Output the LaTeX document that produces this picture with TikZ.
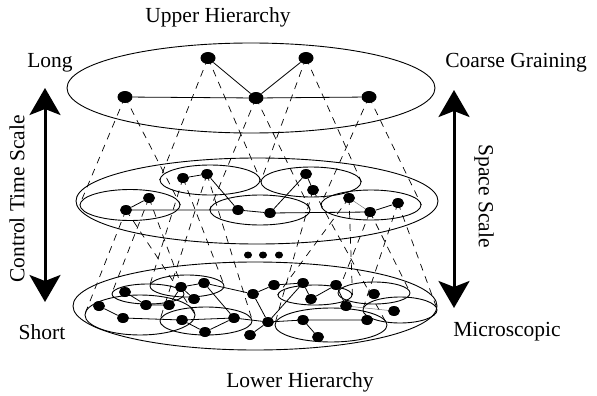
\documentclass[tikz,border=0pt]{standalone}
\usepackage{fontspec}
\setmainfont{Liberation Serif}
\usetikzlibrary{shapes.geometric,arrows.meta}

\tikzset{
	dot/.style={ellipse, fill=black, inner sep=0pt, minimum width=12pt, minimum height=10pt},
	bigdot/.style={dot, minimum width=15pt, minimum height=12pt},
	ring/.style={ellipse, draw, line width=0.9pt, inner sep=0pt},
	cone/.style={line width=0.7pt, dash pattern=on 7pt off 6pt},
	link/.style={line width=0.8pt},
	faint/.style={line width=0.5pt, color=black!55},
	bigarrow/.style={line width=3pt, {Stealth[length=27pt,width=31pt,inset=6pt]}-{Stealth[length=27pt,width=31pt,inset=6pt]}},
	lbl/.style={font=\fontsize{21.5}{26}\selectfont, inner sep=0pt}
}

\begin{document}
\begin{tikzpicture}[x=1pt, y=-1pt]
		%%%%% START %%%%%
		\useasboundingbox (0, 0) rectangle (597, 396);
		
		% the three levels
		\node[ring, minimum width=368pt, minimum height=90pt] (upper) at (251, 88) {};
		\node[ring, minimum width=362pt, minimum height=86pt] (middle) at (257, 201) {};
		\node[ring, minimum width=364pt, minimum height=88pt] (lower) at (255, 306) {};
		
		% groups on the middle level
		\node[ring, minimum width=100pt, minimum height=31pt] (md1) at (130, 205) {};
		\node[ring, minimum width=100pt, minimum height=30pt] (md2) at (210, 180) {};
		\node[ring, minimum width=100pt, minimum height=30pt] (md3) at (311, 182) {};
		\node[ring, minimum width=100pt, minimum height=30pt] (md4) at (260, 210) {};
		\node[ring, minimum width=100pt, minimum height=30pt] (md5) at (371, 205) {};
		
		% groups on the lower level
		\node[ring, minimum width=110pt, minimum height=40pt] (lw1) at (140, 315) {};
		\node[ring, minimum width=72pt, minimum height=20pt] (lw2) at (148, 294) {};
		\node[ring, minimum width=74pt, minimum height=22pt] (lw3) at (187, 286) {};
		\node[ring, minimum width=92pt, minimum height=28pt] (lw4) at (206, 321) {};
		\node[ring, minimum width=74pt, minimum height=20pt] (lw5) at (315, 295) {};
		\node[ring, minimum width=72pt, minimum height=22pt] (lw6) at (374, 293) {};
		\node[ring, minimum width=74pt, minimum height=26pt] (lw7) at (400, 310) {};
		\node[ring, minimum width=112pt, minimum height=34pt] (lw8) at (331, 325) {};
		
		% upper nodes
		\node[bigdot] (t1) at (125, 97) {};
		\node[bigdot] (t2) at (208, 58) {};
		\node[bigdot] (t3) at (306, 58) {};
		\node[bigdot] (t4) at (256, 98) {};
		\node[bigdot] (t5) at (369, 97) {};
		
		% middle nodes
		\node[dot] (ma) at (126, 210) {};
		\node[dot] (mb) at (149, 198) {};
		\node[dot] (mc) at (183, 178) {};
		\node[dot] (md) at (207, 174) {};
		\node[dot] (me) at (238, 210) {};
		\node[dot] (mf) at (270, 213) {};
		\node[dot] (mg) at (306, 174) {};
		\node[dot] (mh) at (313, 190) {};
		\node[dot] (mi) at (349, 198) {};
		\node[dot] (mj) at (370, 212) {};
		\node[dot] (mk) at (398, 203) {};
		
		% lower nodes
		\node[dot] (l1) at (99, 306) {};
		\node[dot] (l2) at (123, 318) {};
		\node[dot] (l3) at (125, 292) {};
		\node[dot] (l4) at (146, 305) {};
		\node[dot] (l5) at (169, 305) {};
		\node[dot] (l6) at (181, 287) {};
		\node[dot] (l7) at (204, 283) {};
		\node[dot] (l8) at (194, 299) {};
		\node[dot] (l9) at (182, 320) {};
		\node[dot] (l10) at (205, 332) {};
		\node[dot] (l11) at (234, 318) {};
		\node[dot] (l12) at (253, 294) {};
		\node[dot] (l13) at (274, 285) {};
		\node[dot] (l14) at (268, 322) {};
		\node[dot] (l15) at (250, 335) {};
		\node[dot] (l16) at (303, 283) {};
		\node[dot] (r1) at (311, 299) {};
		\node[dot] (r2) at (336, 285) {};
		\node[dot] (r3) at (374, 294) {};
		\node[dot] (r4) at (346, 306) {};
		\node[dot] (r5) at (394, 311) {};
		\node[dot] (r6) at (303, 320) {};
		\node[dot] (r7) at (318, 337) {};
		\node[dot] (r8) at (367, 320) {};
		
		% projections upper -> middle
		\draw[cone] (t1.center) -- (md1.west);
		\draw[cone] (t1.center) -- (md1.east);
		\draw[cone] (t2.center) -- (md2.west);
		\draw[cone] (t2.center) -- (md2.east);
		\draw[cone] (t3.center) -- (md3.west);
		\draw[cone] (t3.center) -- (md3.east);
		\draw[cone] (t4.center) -- (md4.west);
		\draw[cone] (t4.center) -- (md4.east);
		\draw[cone] (t5.center) -- (md5.west);
		\draw[cone] (t5.center) -- (md5.east);
		
		% projections middle -> lower
		\draw[cone] (ma.center) -- (lw1.west);
		\draw[cone] (ma.center) -- (lw1.east);
		\draw[cone] (mb.center) -- (lw2.west);
		\draw[cone] (mb.center) -- (lw2.east);
		\draw[cone] (mc.center) -- (lw3.west);
		\draw[cone] (mc.center) -- (lw3.east);
		\draw[cone] (md.center) -- (lw4.west);
		\draw[cone] (md.center) -- (lw4.east);
		\draw[cone] (mi.center) -- (lw5.west);
		\draw[cone] (mi.center) -- (lw5.east);
		\draw[cone] (mj.center) -- (lw6.west);
		\draw[cone] (mj.center) -- (lw6.east);
		\draw[cone] (mk.center) -- (lw7.west);
		\draw[cone] (mk.center) -- (lw7.east);
		\draw[cone] (mh.center) -- (lw8.west);
		\draw[cone] (mh.center) -- (lw8.east);
		
		% upper links
		\draw[link] (t1) -- (t4) -- (t5);
		\draw[link] (t2) -- (t4) -- (t3);
		
		% middle links
		\draw[link] (ma) -- (mb);
		\draw[link] (mc) -- (md) -- (me);
		\draw[link] (ma) -- (me) -- (mf) -- (mj) -- (mk);
		\draw[link] (mf) -- (mg) -- (mh);
		\draw[faint] (mi) -- (mj);
		
		% lower links
		\draw[link] (l1) -- (l2);
		\draw[link] (l3) -- (l4) -- (l5) -- (l6) -- (l7);
		\draw[link] (l6) -- (l8);
		\draw[link] (l2) -- (l9) -- (l11) -- (l14);
		\draw[link] (l9) -- (l10) -- (l11);
		\draw[link] (l7) -- (l11);
		\draw[link] (l7) -- (l12) -- (l13) -- (l16);
		\draw[link] (l12) -- (l14) -- (l15);
		\draw[link] (l14) -- (l16) -- (r1) -- (r2) -- (r4);
		\draw[link] (l14) -- (r6) -- (r8);
		\draw[link] (r6) -- (r7);
		\draw[faint] (r4) -- (r5);
		
		% more levels in between
		\node[dot, minimum width=8pt, minimum height=7pt] (gap1) at (248, 255) {};
		\node[dot, minimum width=8pt, minimum height=7pt] (gap2) at (263, 255) {};
		\node[dot, minimum width=8pt, minimum height=7pt] (gap3) at (279, 255) {};
		
		% scale arrows
		\coordinate (timetop) at (45, 88);
		\coordinate (timebot) at (45, 302);
		\draw[bigarrow] (timetop) -- (timebot);
		\coordinate (spacetop) at (454, 90);
		\coordinate (spacebot) at (454, 308);
		\draw[bigarrow] (spacetop) -- (spacebot);
		
		% labels
		\node[lbl] (uplabel) at (218, 17) {Upper Hierarchy};
		\node[lbl] (lowlabel) at (300, 382) {Lower Hierarchy};
		\node[lbl] (long) at (50, 63) {Long};
		\node[lbl] (short) at (42, 332) {Short};
		\node[lbl] (coarse) at (516, 63) {Coarse Graining};
		\node[lbl] (micro) at (507, 332) {Microscopic};
		\node[lbl, rotate=90] (timelabel) at (17, 199) {Control Time Scale};
		\node[lbl, rotate=-90] (spacelabel) at (484, 196) {Space Scale};
		
		%%%%% END %%%%%
	\end{tikzpicture}
\end{document}
